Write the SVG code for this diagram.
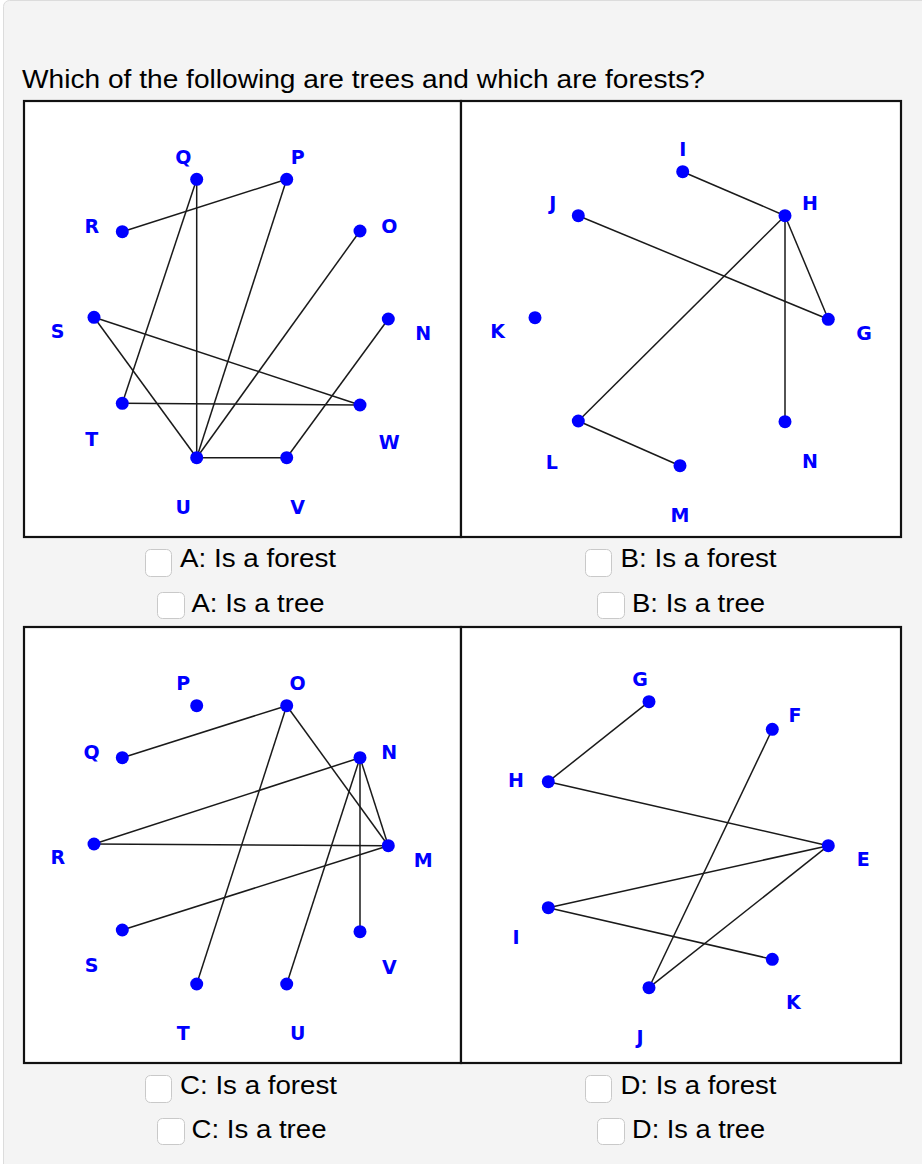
<svg xmlns="http://www.w3.org/2000/svg" width="922" height="1164" viewBox="0 0 922 1164">
<style>
.panel{fill:#ffffff;stroke:#111;stroke-width:2.2}
.e{stroke:#1a1a1a;stroke-width:1.5;fill:none}
.dot{fill:#0000ff}
.lbl{fill:#0000ff;font-family:"DejaVu Sans",sans-serif;font-weight:bold;font-size:19px;text-anchor:middle;dominant-baseline:central}
.q{fill:#000;font-family:"Liberation Sans",Arial,sans-serif;font-size:26px}
.cb{fill:#ffffff;stroke:#c9c9c9;stroke-width:1}
</style>
<rect x="0" y="0" width="922" height="1164" fill="#ffffff"/>
<rect x="3.5" y="0.5" width="940" height="1180" rx="6" fill="#f4f4f4" stroke="#dcdcdc"/>
<text class="q" x="22" y="88" textLength="683" lengthAdjust="spacingAndGlyphs">Which of the following are trees and which are forests?</text>

<g id="panelA">
<rect class="panel" x="24" y="101" width="437" height="436"/>
<g id="edgesA">
<line class="e" x1="122.3" y1="231.7" x2="286.7" y2="179.3"/>
<line class="e" x1="196.7" y1="179.3" x2="122.3" y2="403.3"/>
<line class="e" x1="196.7" y1="179.3" x2="196.7" y2="457.7"/>
<line class="e" x1="286.7" y1="179.3" x2="196.7" y2="457.7"/>
<line class="e" x1="360" y1="231" x2="196.7" y2="457.7"/>
<line class="e" x1="94" y1="317.3" x2="360" y2="405"/>
<line class="e" x1="94" y1="317.3" x2="196.7" y2="457.7"/>
<line class="e" x1="122.3" y1="403.3" x2="360" y2="405"/>
<line class="e" x1="388.3" y1="319" x2="286.7" y2="457.7"/>
<line class="e" x1="196.7" y1="457.7" x2="286.7" y2="457.7"/>
</g>
<g id="nodesA">
<g id="A-Q"><circle class="dot" cx="196.7" cy="179.3" r="6.5"/><text class="lbl" x="183.3" y="156.7">Q</text></g>
<g id="A-P"><circle class="dot" cx="286.7" cy="179.3" r="6.5"/><text class="lbl" x="297.7" y="156.7">P</text></g>
<g id="A-R"><circle class="dot" cx="122.3" cy="231.7" r="6.5"/><text class="lbl" x="91.7" y="226">R</text></g>
<g id="A-O"><circle class="dot" cx="360" cy="231" r="6.5"/><text class="lbl" x="389.3" y="226">O</text></g>
<g id="A-S"><circle class="dot" cx="94" cy="317.3" r="6.5"/><text class="lbl" x="57.7" y="330.7">S</text></g>
<g id="A-N"><circle class="dot" cx="388.3" cy="319" r="6.5"/><text class="lbl" x="423.3" y="333">N</text></g>
<g id="A-T"><circle class="dot" cx="122.3" cy="403.3" r="6.5"/><text class="lbl" x="91.7" y="439">T</text></g>
<g id="A-W"><circle class="dot" cx="360" cy="405" r="6.5"/><text class="lbl" x="389.3" y="441.7">W</text></g>
<g id="A-U"><circle class="dot" cx="196.7" cy="457.7" r="6.5"/><text class="lbl" x="183.3" y="506.7">U</text></g>
<g id="A-V"><circle class="dot" cx="286.7" cy="457.7" r="6.5"/><text class="lbl" x="297.7" y="506.7">V</text></g>
</g>
</g>

<g id="panelB">
<rect class="panel" x="461" y="101" width="440" height="436"/>
<g id="edgesB">
<line class="e" x1="682.7" y1="171.7" x2="785" y2="215.7"/>
<line class="e" x1="578.3" y1="215.7" x2="828.3" y2="319.3"/>
<line class="e" x1="785" y1="215.7" x2="828.3" y2="319.3"/>
<line class="e" x1="785" y1="215.7" x2="578.3" y2="421"/>
<line class="e" x1="785" y1="215.7" x2="785" y2="421.7"/>
<line class="e" x1="578.3" y1="421" x2="680" y2="465.7"/>
</g>
<g id="nodesB">
<g id="B-I"><circle class="dot" cx="682.7" cy="171.7" r="6.5"/><text class="lbl" x="682.7" y="149.3">I</text></g>
<g id="B-H"><circle class="dot" cx="785" cy="215.7" r="6.5"/><text class="lbl" x="810" y="203.3">H</text></g>
<g id="B-J"><circle class="dot" cx="578.3" cy="215.7" r="6.5"/><text class="lbl" x="552.7" y="203.3">J</text></g>
<g id="B-K"><circle class="dot" cx="535" cy="317.7" r="6.5"/><text class="lbl" x="497.7" y="331">K</text></g>
<g id="B-G"><circle class="dot" cx="828.3" cy="319.3" r="6.5"/><text class="lbl" x="864" y="333.3">G</text></g>
<g id="B-L"><circle class="dot" cx="578.3" cy="421" r="6.5"/><text class="lbl" x="551.7" y="461.7">L</text></g>
<g id="B-N"><circle class="dot" cx="785" cy="421.7" r="6.5"/><text class="lbl" x="810" y="460.7">N</text></g>
<g id="B-M"><circle class="dot" cx="680" cy="465.7" r="6.5"/><text class="lbl" x="680" y="515">M</text></g>
</g>
</g>

<g id="panelC">
<rect class="panel" x="24" y="627" width="437" height="436"/>
<g id="edgesC">
<line class="e" x1="122.3" y1="757.7" x2="286.7" y2="705.7"/>
<line class="e" x1="286.7" y1="705.7" x2="196.7" y2="984"/>
<line class="e" x1="286.7" y1="705.7" x2="388.3" y2="845.7"/>
<line class="e" x1="94" y1="844" x2="360" y2="757.7"/>
<line class="e" x1="94" y1="844" x2="388.3" y2="845.7"/>
<line class="e" x1="360" y1="757.7" x2="388.3" y2="845.7"/>
<line class="e" x1="360" y1="757.7" x2="360" y2="931.7"/>
<line class="e" x1="360" y1="757.7" x2="286.7" y2="984"/>
<line class="e" x1="122.3" y1="930" x2="388.3" y2="845.7"/>
</g>
<g id="nodesC">
<g id="C-P"><circle class="dot" cx="196.7" cy="705.7" r="6.5"/><text class="lbl" x="183.3" y="683.3">P</text></g>
<g id="C-O"><circle class="dot" cx="286.7" cy="705.7" r="6.5"/><text class="lbl" x="297.7" y="683.3">O</text></g>
<g id="C-Q"><circle class="dot" cx="122.3" cy="757.7" r="6.5"/><text class="lbl" x="91.7" y="751.7">Q</text></g>
<g id="C-N"><circle class="dot" cx="360" cy="757.7" r="6.5"/><text class="lbl" x="389.3" y="751.7">N</text></g>
<g id="C-R"><circle class="dot" cx="94" cy="844" r="6.5"/><text class="lbl" x="57.7" y="857.3">R</text></g>
<g id="C-M"><circle class="dot" cx="388.3" cy="845.7" r="6.5"/><text class="lbl" x="423.3" y="860">M</text></g>
<g id="C-S"><circle class="dot" cx="122.3" cy="930" r="6.5"/><text class="lbl" x="91.7" y="965">S</text></g>
<g id="C-V"><circle class="dot" cx="360" cy="931.7" r="6.5"/><text class="lbl" x="389.3" y="966.7">V</text></g>
<g id="C-T"><circle class="dot" cx="196.7" cy="984" r="6.5"/><text class="lbl" x="183.3" y="1033.3">T</text></g>
<g id="C-U"><circle class="dot" cx="286.7" cy="984" r="6.5"/><text class="lbl" x="297.7" y="1033.3">U</text></g>
</g>
</g>

<g id="panelD">
<rect class="panel" x="461" y="627" width="440" height="436"/>
<g id="edgesD">
<line class="e" x1="649" y1="701.7" x2="548.3" y2="781.7"/>
<line class="e" x1="548.3" y1="781.7" x2="828.3" y2="845.7"/>
<line class="e" x1="828.3" y1="845.7" x2="548.3" y2="907.7"/>
<line class="e" x1="548.3" y1="907.7" x2="772.3" y2="959.3"/>
<line class="e" x1="772.3" y1="729.3" x2="649" y2="987.7"/>
<line class="e" x1="828.3" y1="845.7" x2="649" y2="987.7"/>
</g>
<g id="nodesD">
<g id="D-G"><circle class="dot" cx="649" cy="701.7" r="6.5"/><text class="lbl" x="640" y="679">G</text></g>
<g id="D-F"><circle class="dot" cx="772.3" cy="729.3" r="6.5"/><text class="lbl" x="795" y="715">F</text></g>
<g id="D-H"><circle class="dot" cx="548.3" cy="781.7" r="6.5"/><text class="lbl" x="516" y="780">H</text></g>
<g id="D-E"><circle class="dot" cx="828.3" cy="845.7" r="6.5"/><text class="lbl" x="863.3" y="859">E</text></g>
<g id="D-I"><circle class="dot" cx="548.3" cy="907.7" r="6.5"/><text class="lbl" x="516" y="937.3">I</text></g>
<g id="D-K"><circle class="dot" cx="772.3" cy="959.3" r="6.5"/><text class="lbl" x="793.3" y="1001.7">K</text></g>
<g id="D-J"><circle class="dot" cx="649" cy="987.7" r="6.5"/><text class="lbl" x="640" y="1037.3">J</text></g>
</g>
</g>

<g id="options">
<rect class="cb" x="145.5" y="549.5" width="26" height="27" rx="5"/>
<text class="q" x="180" y="567" textLength="156" lengthAdjust="spacingAndGlyphs">A: Is a forest</text>
<rect class="cb" x="157.5" y="592.5" width="27" height="26" rx="5"/>
<text class="q" x="191.5" y="612" textLength="133" lengthAdjust="spacingAndGlyphs">A: Is a tree</text>
<rect class="cb" x="585.5" y="549.5" width="26" height="27" rx="5"/>
<text class="q" x="620.5" y="567" textLength="156" lengthAdjust="spacingAndGlyphs">B: Is a forest</text>
<rect class="cb" x="597.5" y="592.5" width="27" height="26" rx="5"/>
<text class="q" x="632" y="612" textLength="133" lengthAdjust="spacingAndGlyphs">B: Is a tree</text>
<rect class="cb" x="145.5" y="1075.5" width="26" height="27" rx="5"/>
<text class="q" x="180" y="1094" textLength="157" lengthAdjust="spacingAndGlyphs">C: Is a forest</text>
<rect class="cb" x="157.5" y="1118.5" width="27" height="26" rx="5"/>
<text class="q" x="191.5" y="1138" textLength="135" lengthAdjust="spacingAndGlyphs">C: Is a tree</text>
<rect class="cb" x="585.5" y="1075.5" width="26" height="27" rx="5"/>
<text class="q" x="620.5" y="1094" textLength="156" lengthAdjust="spacingAndGlyphs">D: Is a forest</text>
<rect class="cb" x="597.5" y="1118.5" width="27" height="26" rx="5"/>
<text class="q" x="632" y="1138" textLength="133" lengthAdjust="spacingAndGlyphs">D: Is a tree</text>
</g>
</svg>
